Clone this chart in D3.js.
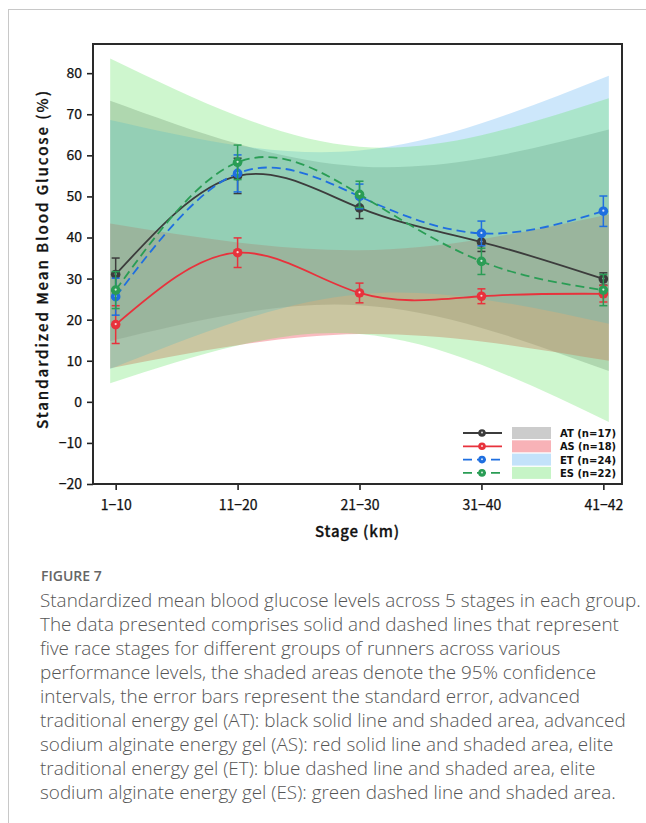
<!DOCTYPE html>
<meta charset="utf-8">
<html lang="en">
  <head>
    <style>
      body { margin: 0; background-color: #fff; }
      svg { display: block; }
      .tick text { font-family: "Noto Sans CJK SC", "DejaVu Sans", sans-serif; font-size: 14px; fill: #111; stroke: #111; stroke-width: 0.25px; }
      .tick line { stroke: #222; stroke-width: 1.6px; }
      .caption { font-family: "Open Sans", sans-serif; font-weight: 300; fill: #555; }
    </style>
  </head>
  <body>
    <svg></svg>
    <script src="https://cdn.jsdelivr.net/npm/d3@7/dist/d3.min.js"></script>
    <script>

      // stages on the x axis
      var stages = ["1\u221210", "11\u221220", "21\u221230", "31\u221240", "41\u221242"];
      var yTicks = [-20, -10, 0, 10, 20, 30, 40, 50, 60, 70, 80];

      // group means (%)
      var atMean = [31.0, 55.0, 47.2, 38.9, 29.9];
      var asMean = [18.8, 36.3, 26.5, 25.7, 26.3];
      var etMean = [25.6, 55.6, 50.0, 41.0, 46.4];
      var esMean = [27.2, 58.3, 50.5, 34.2, 27.2];

      // standard errors
      var atSe = [4.0, 4.3, 2.6, 2.3, 1.5];
      var asSe = [4.6, 3.6, 2.4, 1.8, 2.0];
      var etSe = [4.5, 4.5, 3.0, 3.0, 3.7];
      var esSe = [4.5, 4.2, 3.2, 3.2, 3.8];

      // 95% confidence bands (lower / upper)
      var atLow = [14.8, 21.5, 23.5, 18.0, 7.5];
      var atHigh = [73.3, 62.8, 57.3, 59.2, 66.3];
      var asLow = [8.2, 13.8, 16.5, 14.7, 10.0];
      var asHigh = [43.4, 38.8, 36.9, 39.6, 45.6];
      var etLow = [8.0, 19.6, 26.2, 25.0, 19.0];
      var etHigh = [68.6, 62.4, 61.2, 67.8, 79.4];
      var esLow = [4.5, 13.7, 16.5, 9.0, -4.9];
      var esHigh = [83.6, 69.6, 62.1, 64.9, 73.9];

      var groupNames = ["AT (n=17)", "AS (n=18)", "ET (n=24)", "ES (n=22)"];

      var captionLines = [
        "Standardized mean blood glucose levels across 5 stages in each group.",
        "The data presented comprises solid and dashed lines that represent",
        "five race stages for different groups of runners across various",
        "performance levels, the shaded areas denote the 95% confidence",
        "intervals, the error bars represent the standard error, advanced",
        "traditional energy gel (AT): black solid line and shaded area, advanced",
        "sodium alginate energy gel (AS): red solid line and shaded area, elite",
        "traditional energy gel (ET): blue dashed line and shaded area, elite",
        "sodium alginate energy gel (ES): green dashed line and shaded area."
      ];

      var groups = [
        { name: groupNames[0], mean: atMean, se: atSe, low: atLow, high: atHigh,
          line: "#3c3c3c", fill: "#808080", op: 0.35, dash: null },
        { name: groupNames[1], mean: asMean, se: asSe, low: asLow, high: asHigh,
          line: "#e8323c", fill: "#f05560", op: 0.4, dash: null },
        { name: groupNames[2], mean: etMean, se: etSe, low: etLow, high: etHigh,
          line: "#1f6fe0", fill: "#4aa8f0", op: 0.28, dash: "9,5" },
        { name: groupNames[3], mean: esMean, se: esSe, low: esLow, high: esHigh,
          line: "#2a9d55", fill: "#5ce05c", op: 0.3, dash: "9,5" }
      ];

      var width = 646, height = 823;
      var mLeft = 93, mRight = 622, mTop = 44, mBottom = 484;

      var svg = d3.select("svg")
        .attr("width", width)
        .attr("height", height);

      // page border
      svg.append("line").attr("x1", 8).attr("x2", width).attr("y1", 9.5).attr("y2", 9.5)
        .attr("stroke", "#c8c8c8").attr("stroke-width", 1);
      svg.append("line").attr("x1", 8.5).attr("x2", 8.5).attr("y1", 9).attr("y2", height)
        .attr("stroke", "#c8c8c8").attr("stroke-width", 1);

      var xScale = d3.scaleLinear()
        .domain([-0.186, 4.153])
        .range([mLeft, mRight]);

      var yScale = d3.scaleLinear()
        .domain([-20, 87.1])
        .range([mBottom, mTop]);

      var pad = 0.045;
      function bandX(i) {
        if (i === 0) return xScale(-pad);
        if (i === stages.length - 1) return xScale(i + pad);
        return xScale(i);
      }

      var area = d3.area()
        .curve(d3.curveNatural)
        .x(function(d, i) { return bandX(i); })
        .y0(function(d) { return yScale(d[0]); })
        .y1(function(d) { return yScale(d[1]); });

      var line = d3.line()
        .curve(d3.curveNatural)
        .x(function(d, i) { return xScale(i); })
        .y(function(d) { return yScale(d); });

      var plot = svg.append("g");

      groups.forEach(function(g) {
        var pts = g.low.map(function(v, i) { return [v, g.high[i]]; });
        plot.append("path")
          .attr("d", area(pts))
          .attr("fill", g.fill)
          .attr("fill-opacity", g.op);
      });

      groups.forEach(function(g) {
        plot.append("path")
          .attr("d", line(g.mean))
          .attr("fill", "none")
          .attr("stroke", g.line)
          .attr("stroke-width", 1.8)
          .attr("stroke-dasharray", g.dash);

        var eb = plot.append("g").attr("stroke", g.line).attr("stroke-width", 1.5);
        g.mean.forEach(function(m, i) {
          var x = xScale(i), y0 = yScale(m - g.se[i]), y1 = yScale(m + g.se[i]);
          eb.append("line").attr("x1", x).attr("x2", x).attr("y1", y0).attr("y2", y1);
          eb.append("line").attr("x1", x - 4).attr("x2", x + 4).attr("y1", y0).attr("y2", y0);
          eb.append("line").attr("x1", x - 4).attr("x2", x + 4).attr("y1", y1).attr("y2", y1);
        });

        plot.selectAll(null).data(g.mean).enter().append("circle")
          .attr("cx", function(d, i) { return xScale(i); })
          .attr("cy", function(d) { return yScale(d); })
          .attr("r", 4.8)
          .attr("fill", g.line);
        plot.selectAll(null).data(g.mean).enter().append("circle")
          .attr("cx", function(d, i) { return xScale(i); })
          .attr("cy", function(d) { return yScale(d) - 0.5; })
          .attr("r", 1.1)
          .attr("fill", "#fff")
          .attr("fill-opacity", 0.8);
      });

      // axes
      var yAxis = svg.append("g")
        .attr("transform", "translate(" + mLeft + ",0)")
        .call(d3.axisLeft(yScale).tickValues(yTicks).tickSize(6).tickPadding(5));
      yAxis.select(".domain").remove();

      var xAxis = svg.append("g")
        .attr("transform", "translate(0," + mBottom + ")")
        .call(d3.axisBottom(xScale).tickValues(d3.range(stages.length))
          .tickFormat(function(d) { return stages[d]; })
          .tickSize(6).tickPadding(10));
      xAxis.select(".domain").remove();

      svg.append("rect")
        .attr("x", mLeft).attr("y", mTop)
        .attr("width", mRight - mLeft).attr("height", mBottom - mTop)
        .attr("fill", "none").attr("stroke", "#2a2a2a").attr("stroke-width", 2);

      svg.append("text")
        .attr("transform", "translate(48,260) rotate(-90)")
        .attr("text-anchor", "middle")
        .attr("textLength", 338)
        .attr("lengthAdjust", "spacing")
        .style("font-family", "'Noto Sans CJK SC', sans-serif")
        .style("font-size", "15px")
        .style("font-weight", 500)
        .style("stroke", "#111").style("stroke-width", 0.3)
        .attr("fill", "#111")
        .text("Standardized Mean Blood Glucose (%)");

      svg.append("text")
        .attr("x", 357).attr("y", 537)
        .attr("text-anchor", "middle")
        .attr("textLength", 84)
        .attr("lengthAdjust", "spacing")
        .style("font-family", "'Noto Sans CJK SC', sans-serif")
        .style("font-size", "15px")
        .style("font-weight", 500)
        .style("stroke", "#111").style("stroke-width", 0.3)
        .attr("fill", "#111")
        .text("Stage (km)");

      // legend
      var legend = svg.append("g");
      groups.forEach(function(g, i) {
        var ly = 433 + i * 13.3;
        legend.append("line")
          .attr("x1", 463).attr("x2", 502).attr("y1", ly).attr("y2", ly)
          .attr("stroke", g.line).attr("stroke-width", 1.8)
          .attr("stroke-dasharray", g.dash);
        legend.append("circle").attr("cx", 482).attr("cy", ly).attr("r", 3.8).attr("fill", g.line);
        legend.append("circle").attr("cx", 482).attr("cy", ly - 0.4).attr("r", 1).attr("fill", "#fff")
          .attr("fill-opacity", 0.8);
        legend.append("rect")
          .attr("x", 512).attr("y", ly - 6).attr("width", 39).attr("height", 12)
          .attr("fill", g.fill).attr("fill-opacity", g.op + 0.05);
        legend.append("text")
          .attr("x", 560).attr("y", ly + 4)
          .attr("textLength", 56)
          .attr("lengthAdjust", "spacingAndGlyphs")
          .style("font-family", "'DejaVu Sans Condensed', 'DejaVu Sans', sans-serif")
          .style("font-size", "10.5px")
          .style("font-weight", "bold")
          .attr("fill", "#111")
          .text(g.name);
      });

      // caption
      svg.append("text")
        .attr("class", "caption")
        .attr("x", 41).attr("y", 581)
        .style("font-size", "14px")
        .style("font-weight", 600)
        .style("fill", "#666")
        .text("FIGURE 7");

      svg.append("g").selectAll("text").data(captionLines).enter().append("text")
        .attr("class", "caption")
        .attr("x", 40)
        .attr("y", function(d, i) { return 607 + i * 24; })
        .style("font-size", "18.9px")
        .text(function(d) { return d; });

    </script>
  </body>
</html>
